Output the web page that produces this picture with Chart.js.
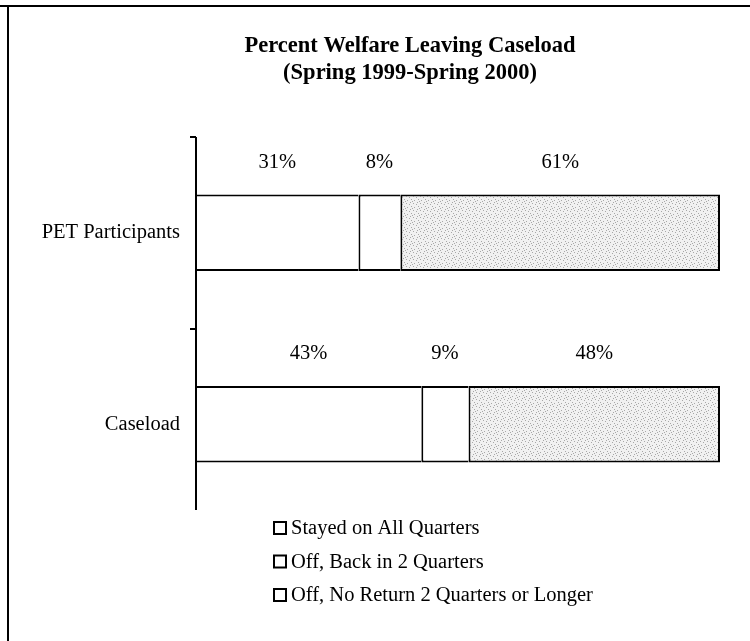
<!DOCTYPE html>
<html>
<head>
<meta charset="utf-8">
<title>Percent Welfare Leaving Caseload</title>
<script src="https://cdn.jsdelivr.net/npm/chart.js@4/dist/chart.umd.min.js"></script>
<style>
  html, body { margin: 0; padding: 0; background: #fff; }
  #wrap { width: 750px; height: 641px; }
</style>
</head>
<body>
<div id="wrap"><canvas id="chart" width="750" height="641"></canvas></div>
<script>
// Data
const CATEGORIES = ['PET Participants', 'Caseload'];
const SERIES_NAMES = ['Stayed on All Quarters', 'Off, Back in 2 Quarters', 'Off, No Return 2 Quarters or Longer'];
const STAYED = [31, 43];
const BACK_IN_2 = [8, 9];
const NO_RETURN = [61, 48];
const TITLE_LINES = ['Percent Welfare Leaving Caseload', '(Spring 1999-Spring 2000)'];

const SERIF = '"Liberation Serif", "Times New Roman", serif';
const INK = '#000';
const FONT_PX = 20.5;

// light stippled grey for the last segment
function stipple() {
  const c = document.createElement('canvas');
  c.width = 7; c.height = 7;
  const g = c.getContext('2d');
  g.fillStyle = '#f1f1f1'; g.fillRect(0, 0, 7, 7);
  g.fillStyle = '#a8a8a8';
  [[0,0],[3,1],[5,3],[1,4],[4,6],[6,5]].forEach(([x, y]) => g.fillRect(x, y, 1, 1));
  return g.createPattern(c, 'repeat');
}

const overlay = {
  id: 'overlay',
  afterDatasetsDraw(chart) {
    const ctx = chart.ctx;
    const area = chart.chartArea;
    ctx.save();

    // frame (only top and left edges are in the picture)
    ctx.strokeStyle = INK; ctx.lineWidth = 2;
    ctx.beginPath();
    ctx.moveTo(0, 6); ctx.lineTo(750, 6);
    ctx.moveTo(8, 6); ctx.lineTo(8, 641);
    ctx.stroke();

    // title
    ctx.fillStyle = INK;
    ctx.textAlign = 'center'; ctx.textBaseline = 'middle';
    ctx.font = 'bold 22.5px ' + SERIF;
    TITLE_LINES.forEach((t, i) => ctx.fillText(t, 410, 46 + i * 27));

    // vertical axis line
    ctx.lineWidth = 2;
    ctx.beginPath();
    ctx.moveTo(area.left, area.top);
    ctx.lineTo(area.left, area.bottom - 10);
    ctx.stroke();

    // percent labels above each segment
    ctx.font = FONT_PX + 'px ' + SERIF;
    chart.data.datasets.forEach((ds, i) => {
      chart.getDatasetMeta(i).data.forEach((bar, j) => {
        const p = bar.getProps(['x', 'base', 'y', 'height'], true);
        ctx.fillText(ds.data[j] + '%', (p.x + p.base) / 2, p.y - p.height / 2 - 32);
      });
    });

    // legend, one item per row
    ctx.textAlign = 'left';
    SERIES_NAMES.forEach((name, i) => {
      const y = 528 + i * 33.5;
      ctx.fillStyle = '#fff';
      ctx.fillRect(274, y - 6, 12, 12);
      ctx.strokeStyle = INK; ctx.lineWidth = 2;
      ctx.strokeRect(274, y - 6, 12, 12);
      ctx.fillStyle = INK;
      ctx.fillText(name, 291, y + 1);
    });
    ctx.restore();
  }
};

const edge = (l, r) => ({ top: 2, bottom: 2, left: l, right: r });

new Chart(document.getElementById('chart'), {
  type: 'bar',
  data: {
    labels: CATEGORIES,
    datasets: [
      { label: SERIES_NAMES[0], data: STAYED, backgroundColor: '#fff', borderColor: INK, borderWidth: edge(0, 0) },
      { label: SERIES_NAMES[1], data: BACK_IN_2, backgroundColor: '#fff', borderColor: INK, borderWidth: edge(2, 0) },
      { label: SERIES_NAMES[2], data: NO_RETURN, backgroundColor: stipple(), borderColor: INK, borderWidth: edge(2, 2) }
    ]
  },
  options: {
    indexAxis: 'y',
    responsive: false,
    animation: false,
    layout: { padding: { top: 137, bottom: 121, left: 0, right: 30 } },
    datasets: { bar: { categoryPercentage: 1, barPercentage: 0.4, borderSkipped: false } },
    scales: {
      x: { stacked: true, min: 0, max: 100, display: false },
      y: {
        stacked: true,
        border: { display: false },
        grid: {
          offset: true,
          drawOnChartArea: false,
          tickLength: 6,
          lineWidth: 2,
          color: c => c.type === 'tick' ? INK : 'rgba(0,0,0,0)'
        },
        ticks: { color: INK, padding: 10, font: { family: SERIF, size: FONT_PX } },
        afterFit: s => { s.width = 196; }
      }
    },
    plugins: {
      legend: { display: false },
      title: { display: false },
      tooltip: { enabled: false }
    }
  },
  plugins: [overlay]
});
</script>
</body>
</html>
